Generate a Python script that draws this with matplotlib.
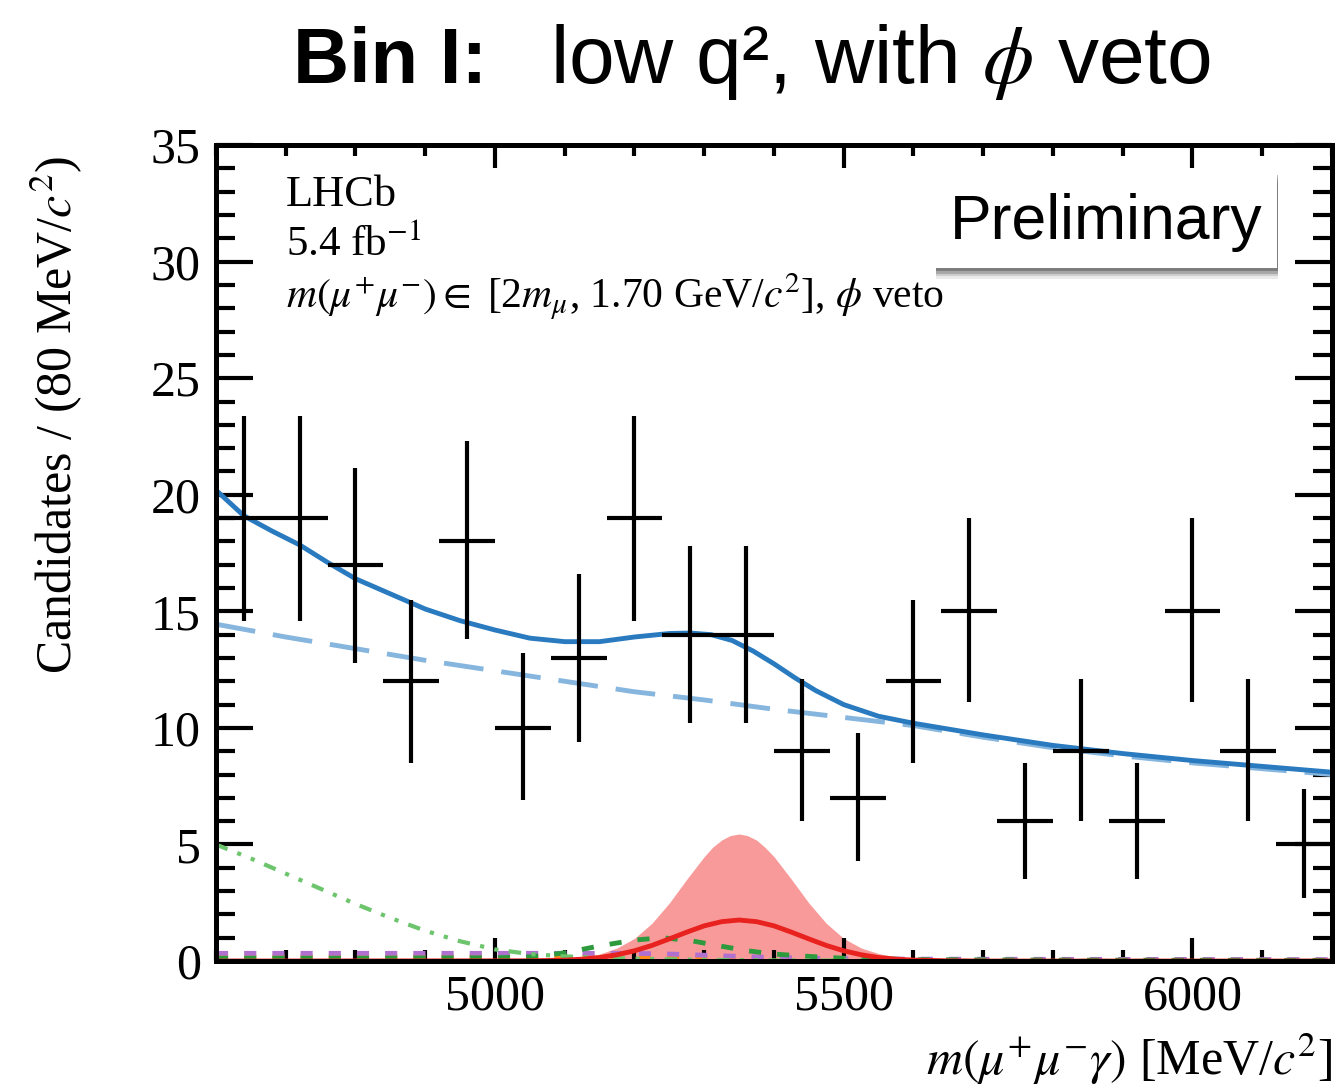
import matplotlib
matplotlib.use("Agg")
import matplotlib.pyplot as plt
import matplotlib.patheffects as pe
from matplotlib.patches import FancyBboxPatch
from matplotlib.ticker import MultipleLocator
import numpy as np

plt.rcParams['font.family'] = ['Liberation Serif', 'DejaVu Serif']
plt.rcParams['mathtext.fontset'] = 'stix'

# ---------------- data ----------------
bin_centers = [4640, 4720, 4800, 4880, 4960, 5040, 5120, 5200, 5280, 5360,
               5440, 5520, 5600, 5680, 5760, 5840, 5920, 6000, 6080, 6160]
counts = [19, 19, 17, 12, 18, 10, 13, 19, 14, 14, 9, 7, 12, 15, 6, 9, 6, 15, 9, 5]
err_upper_edge = [23.4, 23.4, 21.15, 15.5, 22.3, 13.2, 16.6, 23.4, 17.8, 17.8,
                  12.1, 9.8, 15.5, 19.0, 8.5, 12.1, 8.5, 19.0, 12.1, 7.4]
err_lower_edge = [14.6, 14.6, 12.8, 8.5, 13.8, 6.9, 9.4, 14.6, 10.2, 10.2,
                  6.0, 4.3, 8.5, 11.1, 3.5, 6.0, 3.5, 11.1, 6.0, 2.7]
bin_half_width = 40

# total fit (solid blue)
total_x = [4600, 4640, 4680, 4720, 4760, 4800, 4850, 4900, 4950, 5000, 5050, 5100,
           5150, 5200, 5250, 5280, 5310, 5340, 5370, 5400, 5430, 5460, 5500, 5550,
           5600, 5650, 5700, 5800, 5900, 6000, 6100, 6200]
total_y = [20.2, 19.1, 18.45, 17.85, 17.1, 16.4, 15.75, 15.1, 14.6, 14.2, 13.85, 13.7,
           13.7, 13.9, 14.05, 14.07, 14.0, 13.75, 13.3, 12.75, 12.15, 11.6, 11.0, 10.5,
           10.2, 9.95, 9.7, 9.25, 8.9, 8.6, 8.35, 8.1]

# combinatorial background (light blue dashed)
comb_x = [4600, 4700, 4800, 4900, 5000, 5100, 5200, 5300, 5400, 5500, 5600, 5700,
          5800, 5900, 6000, 6100, 6200]
comb_y = [14.45, 13.9, 13.4, 12.9, 12.45, 12.0, 11.55, 11.2, 10.8, 10.45, 10.1, 9.6,
          9.15, 8.8, 8.5, 8.25, 8.0]

# partially reconstructed background (green dash-dot)
partreco_x = [4600, 4650, 4700, 4750, 4800, 4850, 4900, 4950, 5000, 5050, 5100,
              5150, 5200, 5300, 5400, 5600, 6200]
partreco_y = [5.0, 4.4, 3.75, 3.1, 2.45, 1.85, 1.3, 0.85, 0.5, 0.3, 0.2,
              0.15, 0.1, 0.05, 0.03, 0.01, 0.0]

# signal band (shaded red) and signal (red line)
band_x = [4600, 5050, 5100, 5125, 5150, 5175, 5200, 5225, 5250, 5275, 5300, 5312,
          5325, 5337, 5350, 5362, 5375, 5387, 5400, 5425, 5450, 5475, 5500, 5525,
          5550, 5575, 5600, 5650, 5700, 6200]
band_y = [0.0, 0.03, 0.1, 0.16, 0.3, 0.56, 0.97, 1.62, 2.49, 3.51, 4.48, 4.88,
          5.19, 5.38, 5.45, 5.38, 5.19, 4.88, 4.48, 3.51, 2.49, 1.62, 0.97, 0.56,
          0.32, 0.18, 0.1, 0.03, 0.0, 0.0]
signal_x = [4600, 5050, 5100, 5125, 5150, 5175, 5200, 5225, 5250, 5275, 5300, 5325,
            5350, 5375, 5400, 5425, 5450, 5475, 5500, 5525, 5550, 5575, 5600, 5650,
            5700, 6200]
signal_y = [0.0, 0.01, 0.04, 0.08, 0.15, 0.27, 0.44, 0.67, 0.95, 1.24, 1.51, 1.69,
            1.76, 1.69, 1.51, 1.24, 0.95, 0.67, 0.44, 0.27, 0.15, 0.08, 0.04, 0.01,
            0.0, 0.0]

# peaking background (green dashed)
peak_x = [4600, 4800, 5000, 5050, 5100, 5150, 5200, 5240, 5280, 5320, 5360, 5400,
          5450, 5500, 5600, 5800, 6200]
peak_y = [0.12, 0.12, 0.14, 0.18, 0.35, 0.65, 0.9, 1.0, 0.88, 0.66, 0.45, 0.3,
          0.2, 0.12, 0.06, 0.04, 0.03]

# other backgrounds (purple and orange dashed)
purple_x = [4600, 5200, 5250, 5300, 5350, 5400, 5500, 5600, 6200]
purple_y = [0.33, 0.33, 0.3, 0.25, 0.2, 0.15, 0.1, 0.08, 0.06]
orange_x = [4600, 5200, 5300, 5400, 5500, 6200]
orange_y = [0.18, 0.18, 0.12, 0.06, 0.04, 0.03]

x_range = (4600, 6200)
y_range = (0, 35)

# ---------------- figure ----------------
fig = plt.figure(figsize=(13.38, 10.90), dpi=100)
ax = fig.add_axes([0.1614, 0.1183, 0.8341, 0.7486])

ax.fill_between(band_x, 0, band_y, color='#f89a9a', lw=0, zorder=1)
ax.plot(orange_x, orange_y, color='#ff8c1a', lw=3.5, dashes=(2.5, 3.3), zorder=2)
ax.plot(purple_x, purple_y, color='#b070d0', lw=3.5, dashes=(2.5, 3.3), zorder=2)
ax.plot(peak_x, peak_y, color='#2e9a3e', lw=3.5, dashes=(2.5, 3.3), zorder=3)
ax.plot(partreco_x, partreco_y, color='#6cc46c', lw=3,
        dashes=(3, 2.5, 1, 2.5, 1, 2.5), zorder=3)
ax.plot(signal_x, signal_y, color='#e8221e', lw=3.5, zorder=4)
ax.plot(comb_x, comb_y, color='#86b6de', lw=3.5, dashes=(8.2, 3.7), zorder=5)
ax.plot(total_x, total_y, color='#2a7abf', lw=3.5, zorder=6,
        solid_joinstyle='round')

counts_arr = np.array(counts, dtype=float)
yerr = [counts_arr - np.array(err_lower_edge), np.array(err_upper_edge) - counts_arr]
ax.errorbar(bin_centers, counts, yerr=yerr, xerr=bin_half_width, fmt='none',
            ecolor='black', elinewidth=3, capsize=0, zorder=8)

ax.set_xlim(*x_range)
ax.set_ylim(*y_range)

for s in ax.spines.values():
    s.set_linewidth(3.6)
    s.set_zorder(10)

ax.xaxis.set_major_locator(MultipleLocator(500))
ax.xaxis.set_minor_locator(MultipleLocator(100))
ax.yaxis.set_major_locator(MultipleLocator(5))
ax.yaxis.set_minor_locator(MultipleLocator(1))
ax.tick_params(axis='both', which='both', direction='in', top=True, right=True,
               width=3, labelsize=36, colors='black')
ax.tick_params(axis='x', which='major', length=16.5, pad=9)
ax.tick_params(axis='x', which='minor', length=8)
ax.tick_params(axis='y', which='major', length=26.5, pad=11)
ax.tick_params(axis='y', which='minor', length=14)

ax.set_ylabel(r"Candidates / (80 MeV/$c^{2}$)", fontsize=36, ha='center', va='center')
ax.yaxis.set_label_coords(-0.1425, 0.669)
ax.set_xlabel(r"$m(\mu^{+}\mu^{-}\gamma)$ [MeV/$c^{2}$]", fontsize=36,
              ha='right', va='center')
ax.xaxis.set_label_coords(1.0, -0.121)

ax.text(4700, 32.86, "LHCb", fontsize=32, ha='left', va='center', zorder=9)
ax.text(4700, 30.7, r"5.4 fb$^{-1}$", fontsize=31, ha='left', va='center', zorder=9)
ax.text(4700, 28.5, r"$m(\mu^{+}\mu^{-})\in$ [2$m_{\mu}$, 1.70 GeV/$c^{2}$], $\phi$ veto",
        fontsize=30, ha='left', va='center', zorder=9)

# Preliminary box with soft shadow
box = FancyBboxPatch((0.6988, 0.7541), 0.2556, 0.0881, boxstyle='square,pad=0',
                     transform=fig.transFigure, facecolor='white', edgecolor='none',
                     zorder=20)
box.set_path_effects([
    pe.withSimplePatchShadow(offset=(1, -8), shadow_rgbFace='#000000', alpha=0.08),
    pe.withSimplePatchShadow(offset=(1, -6), shadow_rgbFace='#000000', alpha=0.12),
    pe.withSimplePatchShadow(offset=(1, -4), shadow_rgbFace='#000000', alpha=0.18),
    pe.withSimplePatchShadow(offset=(0.5, -2), shadow_rgbFace='#000000', alpha=0.25),
    pe.Normal()])
fig.patches.append(box)
fig.text(0.8266, 0.7963, "Preliminary", fontsize=45, family=['Liberation Sans', 'DejaVu Sans'],
         ha='center', va='center', zorder=21)

# Title
fig.text(0.219, 0.924, "Bin I:", fontsize=56, fontweight='bold',
         family=['Liberation Sans', 'DejaVu Sans'], ha='left', va='baseline')
fig.text(0.411, 0.924, r"low q², with $\phi$ veto", fontsize=59,
         family=['Liberation Sans', 'DejaVu Sans'], ha='left', va='baseline')

fig.savefig("out.png", dpi=100)
